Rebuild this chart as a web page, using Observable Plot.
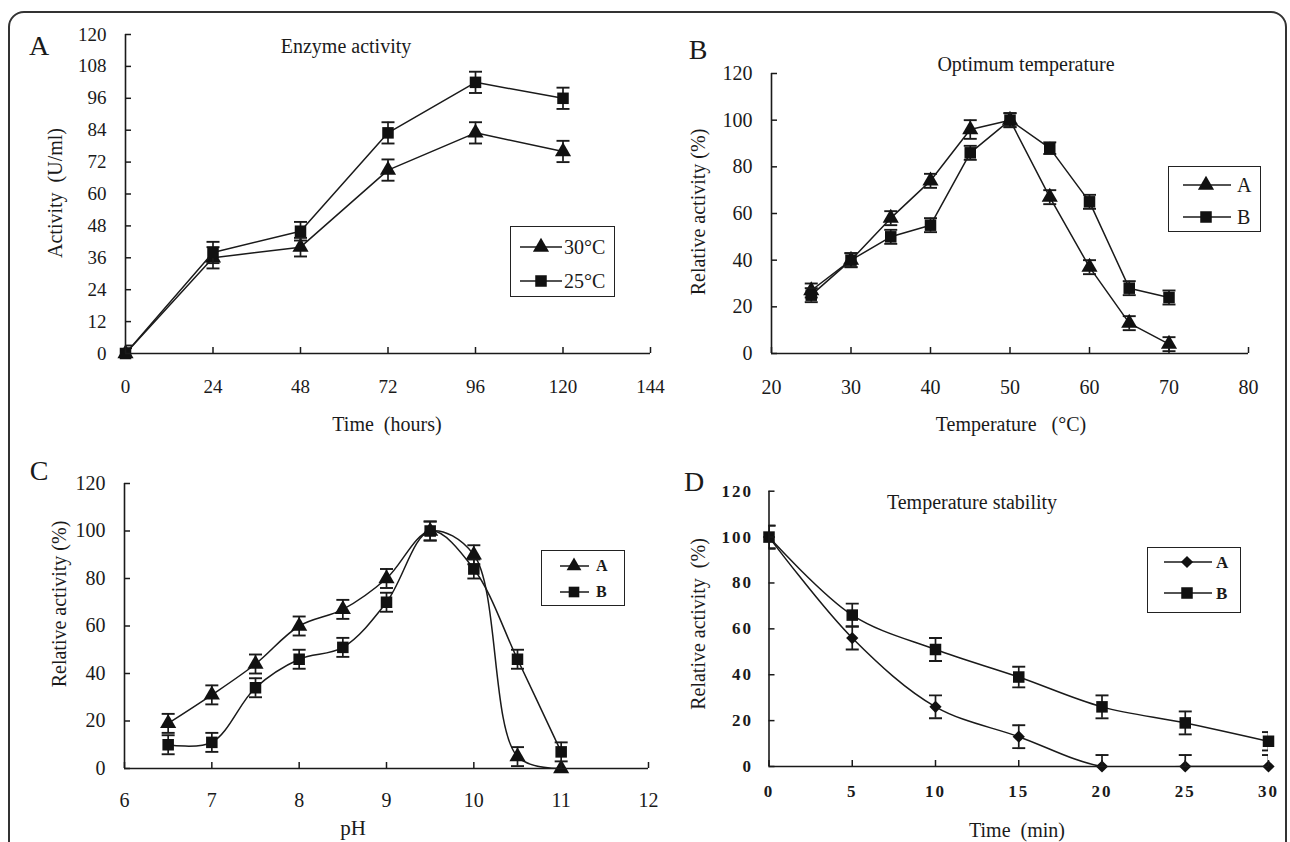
<!DOCTYPE html>
<html><head><meta charset="utf-8">
<script src="https://cdn.jsdelivr.net/npm/d3@7"></script>
<script src="https://cdn.jsdelivr.net/npm/@observablehq/plot@0.6"></script>
<style>
html,body{margin:0;padding:0;background:#fff;width:1290px;height:842px;overflow:hidden;}
#page{position:relative;width:1290px;height:842px;font-family:"Liberation Serif","Times New Roman",serif;color:#1a1a1a;overflow:hidden;}
.frame{position:absolute;left:8px;top:11px;width:1279px;height:900px;border:2px solid #333;border-radius:16px;box-sizing:border-box;}
.t{position:absolute;white-space:pre;transform:translate(-50%,-50%);line-height:1;}
.rot{transform:translate(-50%,-50%) rotate(-90deg);}
.lt{position:absolute;white-space:pre;transform:translate(0,-50%);line-height:1;}
.legend{position:absolute;border:1.5px solid #222;background:#fff;box-sizing:border-box;}
svg{position:absolute;}
</style></head>
<body><div id="page"><div class="frame"></div></div>
<script>
// ---------- DATA ----------
// Panel A: Enzyme activity
const timeHours = [0, 24, 48, 72, 96, 120];
const act30 = [0, 36, 40, 69, 83, 76];
const err30 = [2, 4, 3.5, 4, 4, 4];
const act25 = [0, 38, 46, 83, 102, 96];
const err25 = [3, 4, 3.5, 4, 4, 4];
const ticksAX = [0, 24, 48, 72, 96, 120, 144];
const ticksAY = [0, 12, 24, 36, 48, 60, 72, 84, 96, 108, 120];

// Panel B: Optimum temperature
const tempC = [25, 30, 35, 40, 45, 50, 55, 60, 65, 70];
const optA = [27, 40, 58, 74, 96, 100, 67, 37, 13, 4];
const optAerr = [3, 3, 3, 3, 4, 3, 3, 3, 3, 3];
const optB = [25, 40, 50, 55, 86, 100, 88, 65, 28, 24];
const optBerr = [3, 3, 3, 3, 3, 3, 2.5, 3, 3, 3];
const ticksBX = [20, 30, 40, 50, 60, 70, 80];
const ticksBY = [0, 20, 40, 60, 80, 100, 120];

// Panel C: pH
const pHvals = [6.5, 7, 7.5, 8, 8.5, 9, 9.5, 10, 10.5, 11];
const phA = [19, 31, 44, 60, 67, 80, 100, 90, 5, 0];
const phAerr = [4, 4, 4, 4, 4, 4, 4, 4, 4, 0];
const phB = [10, 11, 34, 46, 51, 70, 100, 84, 46, 7];
const phBerr = [4, 4, 4, 4, 4, 4, 4, 4, 4, 4];
const ticksCX = [6, 7, 8, 9, 10, 11, 12];
const ticksCY = [0, 20, 40, 60, 80, 100, 120];

// Panel D: Temperature stability
const minutes = [0, 5, 10, 15, 20, 25, 30];
const stA = [100, 56, 26, 13, 0, 0, 0];
const stAerr = [5, 5, 5, 5, 5, 5, 5];
const stB = [100, 66, 51, 39, 26, 19, 11];
const stBerr = [5, 5, 5, 4.5, 5, 5, 4];
const ticksDX = [0, 5, 10, 15, 20, 25, 30];
const ticksDY = [0, 20, 40, 60, 80, 100, 120];

// ---------- DRAWING ----------
const page = document.getElementById("page");
const FONT = '"Liberation Serif","Times New Roman",serif';
const INK = "#1a1a1a";
const cap = {draw(ctx, size) { const r = Math.sqrt(size / Math.PI); ctx.moveTo(-r, 0); ctx.lineTo(r, 0); }};

function seriesMarks(xs, ys, es, symbol, r, curve) {
  const data = xs.map((x, i) => ({x, y: ys[i], lo: ys[i] - es[i], hi: ys[i] + es[i], e: es[i]}));
  const withErr = data.filter(d => d.e > 0);
  return [
    Plot.line(data, {x: "x", y: "y", curve, stroke: INK, strokeWidth: 1.5, clip: true}),
    Plot.ruleX(withErr, {x: "x", y1: "lo", y2: "hi", stroke: INK, strokeWidth: 1.7, clip: true}),
    Plot.dot(withErr, {x: "x", y: "hi", symbol: cap, r: 6.5, stroke: INK, strokeWidth: 1.9, fill: "none", clip: true}),
    Plot.dot(withErr, {x: "x", y: "lo", symbol: cap, r: 6.5, stroke: INK, strokeWidth: 1.9, fill: "none", clip: true}),
    Plot.dot(data, {x: "x", y: "y", symbol, r, fill: "#111", stroke: "none"})
  ];
}

function makePanel(cfg) {
  const marks = [];
  for (const s of cfg.series) marks.push(...seriesMarks(cfg.xs, s.ys, s.es, s.symbol, s.r, cfg.curve));
  marks.push(Plot.ruleY([cfg.yDomain[0]], {stroke: INK, strokeWidth: 1.6}));
  marks.push(Plot.ruleX([cfg.xDomain[0]], {stroke: INK, strokeWidth: 1.6}));
  marks.push(Plot.axisX(cfg.xTicks, {tickSize: -6, tickPadding: cfg.xPad, stroke: INK, strokeWidth: 1.5, label: null, tickFormat: d => String(d)}));
  marks.push(Plot.axisY(cfg.yTicks, {tickSize: -6, tickPadding: cfg.yPad, stroke: INK, strokeWidth: 1.5, label: null, tickFormat: d => String(d)}));
  const svg = Plot.plot({
    width: cfg.width, height: cfg.height,
    marginLeft: cfg.mL, marginRight: cfg.mR, marginTop: cfg.mT, marginBottom: cfg.mB,
    x: {domain: cfg.xDomain}, y: {domain: cfg.yDomain},
    style: Object.assign({fontFamily: FONT, fontSize: "19px", color: INK, background: "transparent", overflow: "visible"}, cfg.style || {}),
    marks
  });
  svg.style.position = "absolute";
  svg.style.left = cfg.left + "px";
  svg.style.top = cfg.top + "px";
  page.appendChild(svg);
}

makePanel({left: 0, top: 0, width: 660, height: 440, mL: 125, mR: 10, mT: 34, mB: 87,
  xDomain: [0, 144], yDomain: [0, 120], xTicks: ticksAX, yTicks: ticksAY, xPad: 32, yPad: 25, curve: "linear",
  xs: timeHours,
  series: [{ys: act30, es: err30, symbol: "triangle", r: 6}, {ys: act25, es: err25, symbol: "square", r: 6.5}]});

makePanel({left: 660, top: 0, width: 630, height: 440, mL: 111, mR: 42, mT: 73, mB: 87,
  xDomain: [20, 80], yDomain: [0, 120], xTicks: ticksBX, yTicks: ticksBY, xPad: 32, yPad: 25, curve: "linear",
  style: {fontSize: "20px"},
  xs: tempC,
  series: [{ys: optA, es: optAerr, symbol: "triangle", r: 6}, {ys: optB, es: optBerr, symbol: "square", r: 6.5}]});

makePanel({left: 0, top: 440, width: 660, height: 402, mL: 124, mR: 12, mT: 43, mB: 74,
  xDomain: [6, 12], yDomain: [0, 120], xTicks: ticksCX, yTicks: ticksCY, xPad: 30, yPad: 25, curve: "catmull-rom",
  style: {fontSize: "20px"},
  xs: pHvals,
  series: [{ys: phA, es: phAerr, symbol: "triangle", r: 6}, {ys: phB, es: phBerr, symbol: "square", r: 6.5}]});

makePanel({left: 660, top: 440, width: 630, height: 402, mL: 108.5, mR: 22, mT: 50.7, mB: 76,
  xDomain: [0, 30], yDomain: [0, 120], xTicks: ticksDX, yTicks: ticksDY, xPad: 24, yPad: 22, curve: "catmull-rom",
  style: {fontSize: "17px", fontWeight: "bold", letterSpacing: "2px"},
  xs: minutes,
  series: [{ys: stA, es: stAerr, symbol: "diamond2", r: 5.5}, {ys: stB, es: stBerr, symbol: "square", r: 6.5}]});

// ---------- TEXT ----------
function txt(s, x, y, size, cls, extra) {
  const d = document.createElement("div");
  d.className = cls || "t";
  d.textContent = s;
  d.style.left = x + "px"; d.style.top = y + "px"; d.style.fontSize = size + "px";
  if (extra) Object.assign(d.style, extra);
  page.appendChild(d);
}
txt("A", 39, 46, 28);
txt("Enzyme activity", 346, 46, 20);
txt("Activity  (U/ml)", 55, 193, 20, "t rot");
txt("Time  (hours)", 387, 424, 20);

txt("B", 698, 50, 28);
txt("Optimum temperature", 1026, 64, 20);
txt("Relative activity (%)", 698, 212, 20, "t rot");
txt("Temperature   (°C)", 1011, 424, 20);

txt("C", 39, 471, 28);
txt("Relative activity (%)", 59, 604, 20, "t rot");
txt("pH", 353, 828, 21);

txt("D", 694, 482, 28);
txt("Temperature stability", 972, 502, 20);
txt("Relative activity  (%)", 698, 624, 20, "t rot");
txt("Time  (min)", 1017, 830, 20);

// ---------- LEGENDS ----------
const legends = [
  {box: [510, 226, 105, 71], line: [520, 562], mx: 541, tx: 564, size: 20, bold: false,
   items: [{label: "30°C", sym: d3.symbolTriangle, y: 247, r: 6}, {label: "25°C", sym: d3.symbolSquare, y: 281, r: 6.5}]},
  {box: [1168, 166, 93, 66], line: [1183, 1231], mx: 1206, tx: 1237, size: 20, bold: false,
   items: [{label: "A", sym: d3.symbolTriangle, y: 185, r: 6}, {label: "B", sym: d3.symbolSquare, y: 217, r: 6.5}]},
  {box: [541, 550, 84, 56], line: [560, 589], mx: 574, tx: 596, size: 16, bold: true,
   items: [{label: "A", sym: d3.symbolTriangle, y: 566, r: 5.5}, {label: "B", sym: d3.symbolSquare, y: 592, r: 6}]},
  {box: [1147, 547, 94, 66], line: [1164, 1212], mx: 1187, tx: 1216, size: 17, bold: true,
   items: [{label: "A", sym: d3.symbolDiamond2, y: 562, r: 5.5}, {label: "B", sym: d3.symbolSquare, y: 593, r: 6.5}]}
];
for (const L of legends) {
  const b = document.createElement("div");
  b.className = "legend";
  Object.assign(b.style, {left: L.box[0] + "px", top: L.box[1] + "px", width: L.box[2] + "px", height: L.box[3] + "px"});
  page.appendChild(b);
}
const ov = d3.select(page).append("svg").attr("width", 1290).attr("height", 842)
  .style("left", "0px").style("top", "0px").style("pointer-events", "none");
for (const L of legends) {
  for (const it of L.items) {
    ov.append("line").attr("x1", L.line[0]).attr("x2", L.line[1]).attr("y1", it.y).attr("y2", it.y)
      .attr("stroke", INK).attr("stroke-width", 1.5);
    ov.append("path").attr("d", d3.symbol(it.sym, it.r * it.r * Math.PI)())
      .attr("transform", `translate(${L.mx},${it.y})`).attr("fill", "#111");
    txt(it.label, L.tx, it.y, L.size, "lt", {fontWeight: L.bold ? "bold" : "normal"});
  }
}
</script>
</body></html>
